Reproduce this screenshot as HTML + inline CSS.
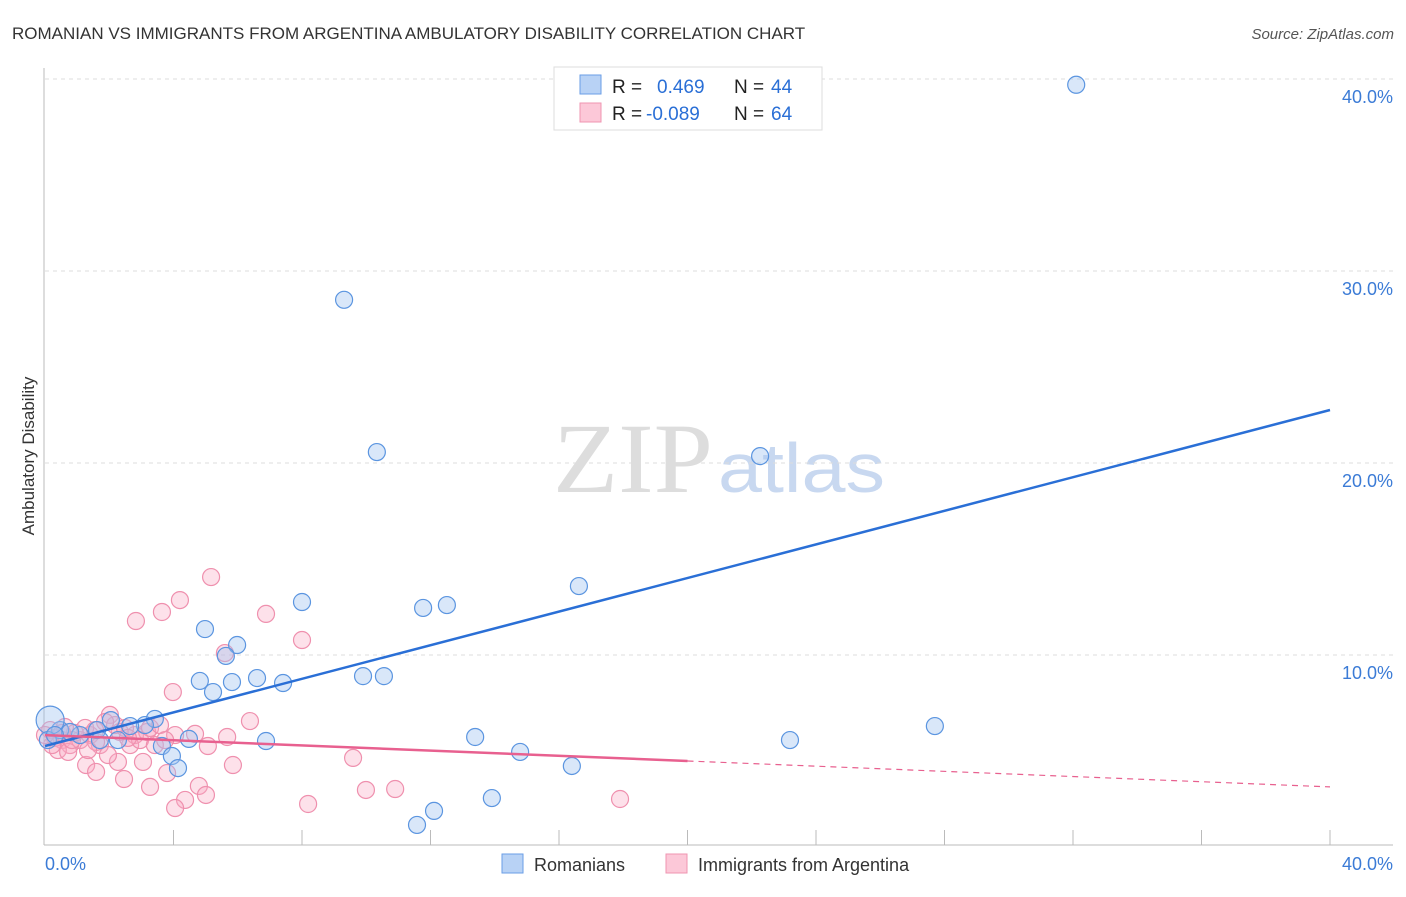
<!DOCTYPE html>
<html><head><meta charset="utf-8"><style>
body{margin:0;background:#fff;font-family:"Liberation Sans",sans-serif}
</style></head><body>
<svg id="c" width="1406" height="892" xmlns="http://www.w3.org/2000/svg">
<text x="12" y="39" font-size="17" fill="#333">ROMANIAN VS IMMIGRANTS FROM ARGENTINA AMBULATORY DISABILITY CORRELATION CHART</text>
<text x="1394" y="39" font-size="15" fill="#555" font-style="italic" text-anchor="end">Source: ZipAtlas.com</text>
<text x="553" y="492" font-size="100" fill="#ddd" textLength="160" lengthAdjust="spacingAndGlyphs" font-family="Liberation Serif,serif">ZIP</text>
<text x="718" y="492" font-size="70" fill="#c8d8f0" textLength="167" lengthAdjust="spacingAndGlyphs">atlas</text>
<text transform="translate(34,456) rotate(-90)" font-size="17" fill="#333" text-anchor="middle">Ambulatory Disability</text>
<g id="grid"></g><g id="pts"></g><g id="lines"></g>
<g>
<rect x="554" y="67" width="268" height="63" fill="#fff" stroke="#ddd"/>
<rect x="580" y="75" width="21" height="19" fill="#b8d2f5" stroke="#6a9ee6"/>
<rect x="580" y="103" width="21" height="19" fill="#fcc8d8" stroke="#ef95b1"/>
<text x="612" y="93" font-size="19" fill="#222">R = </text><text x="657" y="93" font-size="19" fill="#2a6fd6">0.469</text>
<text x="734" y="93" font-size="19" fill="#222">N = </text><text x="771" y="93" font-size="19" fill="#2a6fd6">44</text>
<text x="612" y="120" font-size="19" fill="#222">R = </text><text x="646" y="120" font-size="19" fill="#2a6fd6">-0.089</text>
<text x="734" y="120" font-size="19" fill="#222">N = </text><text x="771" y="120" font-size="19" fill="#2a6fd6">64</text>
</g>
<g>
<rect x="502" y="854" width="21" height="19" fill="#b8d2f5" stroke="#6a9ee6"/>
<text x="534" y="871" font-size="18" fill="#333">Romanians</text>
<rect x="666" y="854" width="21" height="19" fill="#fcc8d8" stroke="#ef95b1"/>
<text x="698" y="871" font-size="18" fill="#333">Immigrants from Argentina</text>
</g>
</svg>
<script>
const yTicks=[10,20,30,40];
const yTickLabels=["10.0%","20.0%","30.0%","40.0%"];
const blueX=[32.1,9.31,10.33,22.26,16.62,8.0,11.77,12.51,4.98,5.98,5.63,4.82,5.23,5.82,6.6,7.41,9.9,10.55,27.7,23.19,13.39,6.88,14.79,16.4,13.91,12.11,11.58,3.64,3.95,4.14,4.48,3.42,2.05,3.11,1.62,0.47,0.16,0.09,1.09,1.71,2.27,2.65,0.78,0.31];
const blueY=[39.7,28.5,20.57,20.36,13.59,12.76,12.45,12.6,11.35,10.52,9.95,8.65,8.07,8.59,8.8,8.54,8.9,8.9,6.3,5.57,5.73,5.52,4.95,4.22,2.55,1.88,1.15,5.26,4.74,4.11,5.63,6.67,6.61,6.35,6.09,6.09,6.61,5.57,5.83,5.57,5.57,6.3,5.99,5.83];
const pinkX=[5.17,4.2,6.88,3.64,2.83,8.0,5.6,3.98,6.38,2.02,4.67,4.05,2.8,3.18,1.4,2.33,5.07,5.67,5.85,9.59,2.27,3.05,1.28,1.59,2.46,3.27,3.8,4.79,5.01,4.36,4.05,8.19,9.99,10.9,17.9,0.53,0.78,1.09,0.31,0.16,1.71,1.96,2.65,2.96,0.93,0.62,1.25,0.4,0.72,1.59,3.27,3.58,2.18,1.87,0.22,0,3.42,3.74,1.56,2.49,1.34,0.84,2.58,0.53];
const pinkY=[14.06,12.86,12.14,12.24,11.77,10.78,10.1,8.07,6.56,6.88,5.89,5.83,5.83,5.99,5.83,5.99,5.26,5.73,4.27,4.64,4.43,4.43,4.27,3.91,3.54,3.13,3.85,3.18,2.71,2.45,2.03,2.24,2.97,3.02,2.5,5.57,5.31,5.57,5.68,6.09,5.31,4.79,5.31,5.57,5.94,6.25,6.2,5.05,4.95,5.47,6.2,6.35,6.35,6.51,5.31,5.83,5.31,5.57,6.09,6.2,5.05,5.57,5.68,5.94];
const blueLine=[5.26,22.76];
const pinkLine=[5.83,3.13];
const xs=v=>45+v*32.125, ys=v=>847-v*19.2;
const NS="http://www.w3.org/2000/svg";
function mk(t,a,p){const e=document.createElementNS(NS,t);for(const k in a)e.setAttribute(k,a[k]);p.appendChild(e);return e;}
const g=document.getElementById('grid');
yTicks.forEach((t,i)=>{
 const l=mk('line',{x1:45,x2:1393,y1:ys(t),y2:ys(t),stroke:'#ddd','stroke-dasharray':'4,4'},g);
 
 
 const tx=mk('text',{x:1393,y:ys(t)+24,'font-size':18,fill:'#3b7bd6','text-anchor':'end'},g);
 tx.textContent=yTickLabels[i];
 
 
});
let a=mk('line',{x1:44,x2:44,y1:68,y2:845,stroke:'#bbb'},g);


a=mk('line',{x1:44,x2:1393,y1:845,y2:845,stroke:'#bbb'},g);


for(let v=4;v<=40;v+=4){const t=mk('line',{x1:xs(v),x2:xs(v),y1:830,y2:845,stroke:'#bbb'},g);
 
 }
let t0=mk('text',{x:45,y:870,'font-size':18,fill:'#3b7bd6'},g);t0.textContent='0.0%';


t0=mk('text',{x:1393,y:870,'font-size':18,fill:'#3b7bd6','text-anchor':'end'},g);t0.textContent='40.0%';


const P=document.getElementById('pts');
pinkX.forEach((x,i)=>{const c=mk('circle',{cx:xs(x),cy:ys(pinkY[i]),r:8.5,fill:'rgba(248,170,195,0.35)',stroke:'#ef90ae','stroke-width':1.2},P);
 
 });
blueX.forEach((x,i)=>{const c=mk('circle',{cx:xs(x),cy:ys(blueY[i]),r:(i==36?14:8.5),fill:'rgba(160,195,240,0.4)',stroke:'#5b95e0','stroke-width':1.2},P);
 
 });
const L=document.getElementById('lines');
let l=mk('line',{x1:xs(0),y1:ys(blueLine[0]),x2:xs(40),y2:ys(blueLine[1]),stroke:'#2a6fd6','stroke-width':2.5},L);


const pm=pinkLine[0]+(pinkLine[1]-pinkLine[0])*0.5;
l=mk('line',{x1:xs(0),y1:ys(pinkLine[0]),x2:xs(20),y2:ys(pm),stroke:'#e8608f','stroke-width':2.5},L);


l=mk('line',{x1:xs(20),y1:ys(pm),x2:xs(40),y2:ys(pinkLine[1]),stroke:'#e8608f','stroke-width':1.2,'stroke-dasharray':'6,5'},L);


</script>
</body></html>
